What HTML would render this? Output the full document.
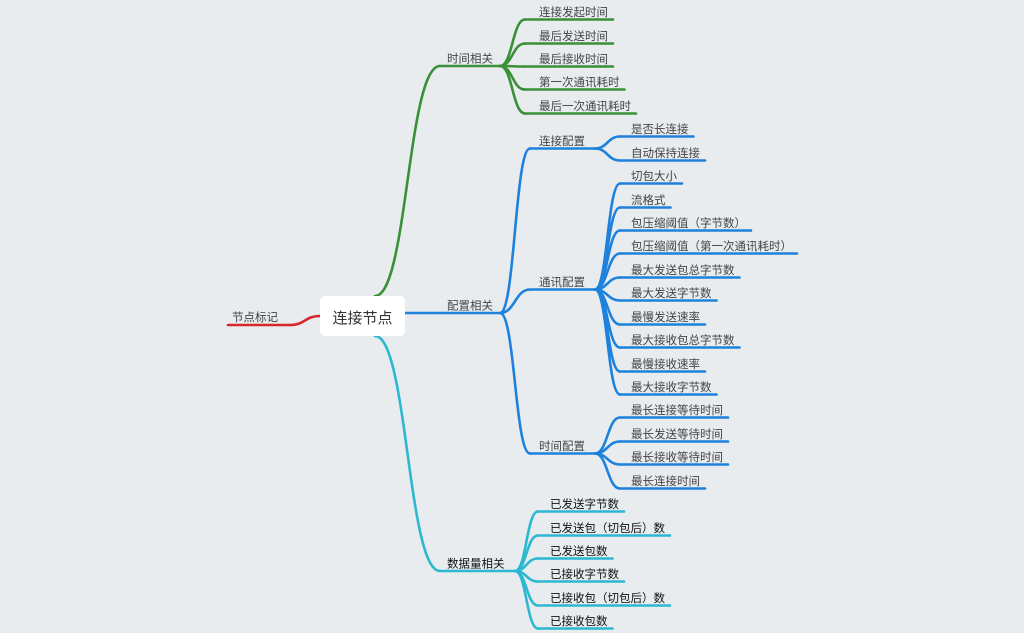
<!DOCTYPE html>
<html><head><meta charset="utf-8"><style>
html,body{margin:0;padding:0;background:#e8ecef;}
svg{display:block;font-family:"Liberation Sans","Noto Sans CJK SC",sans-serif;}
</style></head><body>
<svg id="m" width="1024" height="633">
<rect x="0" y="0" width="1024" height="633" fill="#e8ecef"/>
<g id="lines" fill="none" stroke-width="2.6" stroke-linecap="round"></g>
<g id="labels" font-size="11.5" fill="#444"></g>
<rect x="320" y="296" width="85" height="40" rx="5" fill="#fff"/>
<text x="362.5" y="323" font-size="15" text-anchor="middle" fill="#333">连接节点</text>
</svg>
<script>
const greenItems=["连接发起时间","最后发送时间","最后接收时间","第一次通讯耗时","最后一次通讯耗时"];
const greenY=[12,36,59,82,106];
const connItems=["是否长连接","自动保持连接"];
const connY=[129,153];
const commItems=["切包大小","流格式","包压缩阈值（字节数）","包压缩阈值（第一次通讯耗时）","最大发送包总字节数","最大发送字节数","最慢发送速率","最大接收包总字节数","最慢接收速率","最大接收字节数"];
const commY=[176,200,223,246,270,293,317,340,364,387];
const timeItems=["最长连接等待时间","最长发送等待时间","最长接收等待时间","最长连接时间"];
const timeY=[410,434,457,481];
const dataItems=["已发送字节数","已发送包（切包后）数","已发送包数","已接收字节数","已接收包（切包后）数","已接收包数"];
const dataY=[504,528,551,574,598,621];
const NS="http://www.w3.org/2000/svg";
const L=document.getElementById('lines'),T=document.getElementById('labels');
function curve(x1,y1,x2,y2,c,name){const p=document.createElementNS(NS,'path');const mx=(x2-x1)*0.5;
p.setAttribute('d',`M${x1},${y1} C${x1+mx},${y1} ${x2-mx},${y2} ${x2},${y2}`);p.setAttribute('stroke',c);


L.appendChild(p);}
function hline(x1,x2,y,c,name){const p=document.createElementNS(NS,'path');p.setAttribute('d',`M${x1},${y} L${x2},${y}`);p.setAttribute('stroke',c);


L.appendChild(p);}
function label(x,y,s,fill,name){const t=document.createElementNS(NS,'text');t.setAttribute('x',x);t.setAttribute('y',y);t.textContent=s;if(fill)t.setAttribute('fill',fill);


T.appendChild(t);return t.getComputedTextLength();}
function node(px,py,sx,tx,ty,s,c,fill,name){const ly=ty+7.5;curve(px,py,sx,ly,c,name+'-link');const w=label(tx,ty+4,s,fill,name);hline(sx,tx+w+5,ly,c,name+'-underline');}
const G='#3a9038',B='#1e82dc',C='#2bb8d0',R='#d9262c';
curve(320,316,290,325,R,'marker-link');hline(228,290,325,R,'marker-underline');label(232,321,'节点标记',null,'marker-label');
curve(375,296,440,66,G,'time-branch-link');hline(440,500,66,G,'time-branch-underline');label(447,62.5,'时间相关',null,'time-branch-label');
greenItems.forEach((s,i)=>node(500,66,525,539,greenY[i],s,G,null,'time-item'));
hline(405,500,313,B,'config-branch-underline');label(447,309.5,'配置相关',null,'config-branch-label');
[["连接配置",141,connItems,connY],["通讯配置",282,commItems,commY],["时间配置",446,timeItems,timeY]].forEach(([s,y,items,ys])=>{
 const ly=y+7.5;curve(500,313,530,ly,B,'config-sub-link');hline(530,595,ly,B,'config-sub-underline');label(539,y+4,s,null,'config-sub-label');
 items.forEach((it,i)=>node(595,ly,620,631,ys[i],it,B,null,'config-item'));
});
curve(375,336,440,571,C,'data-branch-link');hline(440,515,571,C,'data-branch-underline');label(447,567.5,'数据量相关','#111','data-branch-label');
dataItems.forEach((s,i)=>node(515,571,538,550,dataY[i],s,C,'#111','data-item'));
</script>
</body></html>
